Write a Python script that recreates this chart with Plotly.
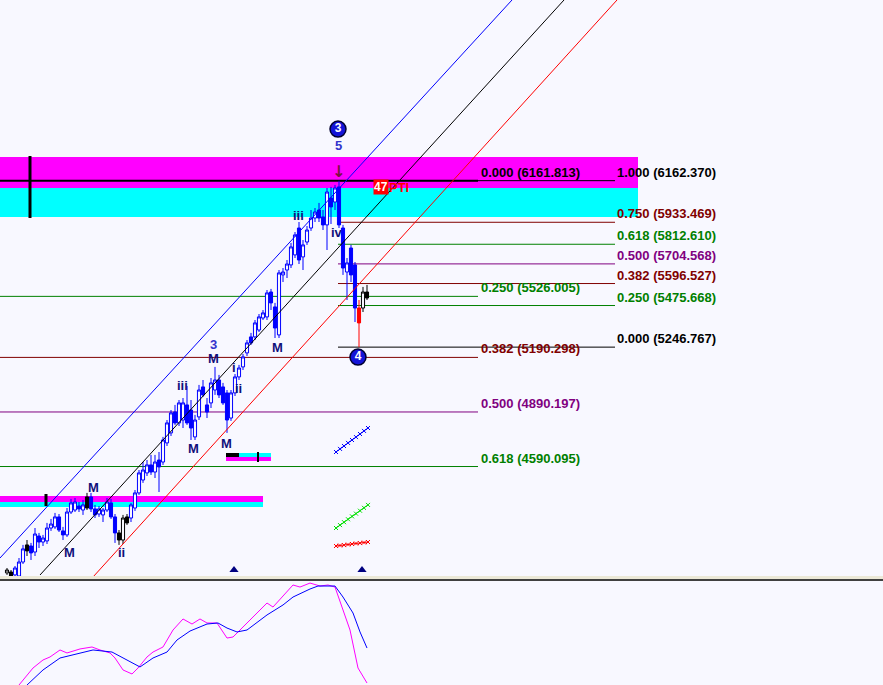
import plotly.graph_objects as go

# ---------------- data ----------------
bars = list(range(91))
opens = [4005, 4010, 3994, 3988, 4065, 4159, 4153, 4120, 4208, 4175,
         4181, 4252, 4258, 4313, 4236, 4214, 4340, 4351, 4373, 4351,
         4423, 4423, 4357, 4329, 4324, 4351, 4390, 4313, 4225, 4186,
         4313, 4307, 4362, 4445, 4516, 4555, 4599, 4560, 4626, 4615,
         4720, 4775, 4890, 4830, 4846, 4929, 4901, 4753, 4863, 5028,
         4929, 4940, 5011, 5066, 5028, 4995, 4857, 4995, 5083, 5138,
         5215, 5303, 5303, 5341, 5407, 5413, 5550, 5468, 5314, 5644,
         5671, 5699, 5754, 5902, 5743, 5825, 5902, 5957, 6001, 5963,
         5919, 6067, 6045, 6128, 5902, 5660, 5792, 5699, 5462, 5462, 5550]
highs = [4032, 4021, 4043, 4087, 4159, 4186, 4170, 4252, 4225, 4214,
         4280, 4302, 4335, 4329, 4258, 4362, 4412, 4417, 4395, 4406,
         4445, 4445, 4379, 4373, 4362, 4417, 4412, 4329, 4241, 4324,
         4329, 4390, 4461, 4571, 4615, 4626, 4654, 4654, 4670, 4753,
         4846, 4901, 4929, 4956, 4967, 5033, 4956, 4874, 5039, 5066,
         4967, 5077, 5138, 5094, 5050, 5011, 5011, 5099, 5149, 5209,
         5286, 5325, 5396, 5429, 5451, 5561, 5567, 5490, 5671, 5682,
         5726, 5820, 5880, 5935, 5836, 5913, 6001, 6012, 6040, 6001,
         6122, 6128, 6139, 6162, 5919, 5737, 5809, 5715, 5506, 5578, 5589]
lows = [3994, 3985, 3985, 3985, 4054, 4098, 4076, 4098, 4142, 4153,
        4164, 4236, 4247, 4230, 4186, 4203, 4329, 4340, 4340, 4324,
        4351, 4340, 4307, 4313, 4285, 4340, 4302, 4170, 4159, 4164,
        4269, 4285, 4346, 4434, 4500, 4538, 4544, 4527, 4450, 4599,
        4703, 4758, 4819, 4813, 4802, 4819, 4736, 4736, 4846, 4973,
        4857, 4912, 4984, 4967, 4929, 4775, 4841, 4978, 5066, 5121,
        5198, 5259, 5286, 5330, 5396, 5396, 5451, 5297, 5297, 5605,
        5627, 5682, 5737, 5704, 5671, 5809, 5886, 5935, 5935, 5891,
        5781, 5924, 6001, 5902, 5644, 5506, 5605, 5385, 5247, 5440, 5506]
closes = [4021, 3988, 4032, 4065, 4137, 4126, 4115, 4219, 4175, 4197,
          4252, 4274, 4313, 4241, 4214, 4340, 4390, 4395, 4357, 4379,
          4362, 4357, 4324, 4357, 4351, 4395, 4313, 4225, 4186, 4307,
          4280, 4379, 4445, 4555, 4571, 4599, 4560, 4615, 4588, 4736,
          4830, 4885, 4830, 4940, 4940, 4830, 4802, 4846, 5011, 4984,
          4890, 5050, 5066, 4984, 4940, 4846, 4995, 5083, 5132, 5193,
          5270, 5270, 5380, 5413, 5435, 5545, 5490, 5352, 5655, 5660,
          5704, 5798, 5864, 5726, 5809, 5891, 5957, 5990, 5957, 5919,
          6100, 6018, 6122, 5919, 5682, 5710, 5644, 5462, 5380, 5550, 5517]
black_bars = [0, 1, 5, 20, 28, 29, 30, 89, 90]
red_bars = [88]

# Fibonacci sets
fib_left_ratio = ["0.000", "0.250", "0.382", "0.500", "0.618"]
fib_left_price = [6161.813, 5526.005, 5190.298, 4890.197, 4590.095]
fib_right_ratio = ["1.000", "0.750", "0.618", "0.500", "0.382", "0.250", "0.000"]
fib_right_price = [6162.370, 5933.469, 5812.610, 5704.568, 5596.527, 5475.668, 5246.767]

# channel anchor points (bar, price)
chan_blue_x, chan_blue_y = [-1.75, 126.25], [4087, 7156]
chan_black_x, chan_black_y = [8.25, 139.25], [3993.5, 7156]
chan_red_x, chan_red_y = [21.5, 152.5], [3982.5, 7156]

# supply/demand zones (top, mid, bottom)
zone_hi = [6292.5, 6122, 5962.5]
zone_lo = [4428, 4395, 4367.5]
zone_small = [4664.5, 4642.5, 4620.5]

# wave labels (bar, price, text)
wave_labels = [
    (72.75, 5973, "iii"), (82.5, 5880, "iv"), (67.5, 5247, "M"),
    (51.5, 5187, "M"), (43.75, 5038, "iii"), (56.75, 5137, "i"),
    (57.75, 5022, "ii"), (46.5, 4692, "M"), (54.75, 4719, "M"),
    (21.5, 4477, "M"), (15.5, 4120, "M"), (28.5, 4120, "ii"),
]
wave_light = [(51.5, 5264, "3"), (82.75, 6358, "5")]
circles = [(82.75, 6446, "3"), (87.75, 5192, "4")]

# small indicator strokes
ind_x = [82.25, 83.25, 84.25, 85.25, 86.25, 87.25, 88.25, 89.25, 90.25]
ind_blue = [4670, 4687, 4703, 4720, 4736, 4752, 4769, 4786, 4802]
ind_green = [4252, 4268, 4284, 4300, 4316, 4331, 4347, 4363, 4379]
ind_red = [4153, 4156, 4158, 4161, 4164, 4167, 4169, 4172, 4175]

# oscillator (lower pane)
osc_mag_x = [3, 6.5, 9, 10.75, 13.25, 15, 18.25, 21.25, 23.25, 25.75, 27, 29, 31.25,
             32.75, 35, 36.5, 39, 41.5, 44, 46.25, 48.25, 50, 52.5, 55, 56.5, 60,
             62.5, 65, 66.5, 69, 71.5, 73.25, 75.75, 78.25, 80.25, 82, 83.75,
             85.75, 87.75, 90]
osc_mag = [0, 16.5, 24.3, 27.2, 34, 31.1, 35, 36.9, 34, 31.1, 26.2, 14.6, 10.7,
           16.5, 27.2, 32, 36.9, 53.4, 64.1, 59.2, 64.1, 60.2, 60.2, 45.6, 46.6, 60.2,
           69.9, 79.6, 75.7, 86.4, 97.1, 95.1, 99, 96.1, 97.1, 95.1, 75.7,
           53.4, 16.5, 1.9]
osc_blue_x = [5, 9, 13.25, 16.5, 21.5, 26.25, 29, 33.25, 36.5, 40, 42.5, 45.75, 50,
              52.75, 55, 57.5, 60, 65, 69, 71.5, 75.75, 77.75, 82, 84, 86.5, 88.25, 90]
osc_blue = [0, 14.6, 26.2, 29.1, 34, 32, 26.2, 17.5, 26.2, 32, 43.7, 52.4, 59.2,
            60.2, 55.3, 51.5, 53.4, 68, 77.7, 85.4, 93.2, 96.1, 96.1, 85.4, 69.9, 51.5, 35.9]

signal_marks_x = [56.75, 88.75]
signal_marks_y = [4021, 4021]

# ---------------- styling ----------------
BG = "#F8F8FF"
BLUE = "#0000FF"
NAVY = "#10107A"
GREEN = "#008000"
DRED = "#800000"
PURP = "#800080"
FONT = "Liberation Sans"
fib_left_col = ["#000000", GREEN, DRED, PURP, GREEN]
fib_right_col = ["#000000", DRED, GREEN, PURP, DRED, GREEN, "#000000"]
X0, X1 = -1.75, 219.0
Y0, Y1 = 3982.5, 7156.0

fig = go.Figure()


def candles(idx, up_line, up_fill, dn_line, dn_fill):
    fig.add_trace(go.Candlestick(
        x=[bars[i] for i in idx], open=[opens[i] for i in idx],
        high=[highs[i] for i in idx], low=[lows[i] for i in idx],
        close=[closes[i] for i in idx],
        increasing=dict(line=dict(color=up_line, width=1), fillcolor=up_fill),
        decreasing=dict(line=dict(color=dn_line, width=1), fillcolor=dn_fill),
        whiskerwidth=0, hoverinfo="skip", showlegend=False))


blue_idx = [i for i in bars if i not in black_bars and i not in red_bars]
candles(blue_idx, BLUE, BG, BLUE, BLUE)
candles(black_bars, "#000000", BG, "#000000", "#000000")
candles(red_bars, "#FF0000", "#FF0000", "#FF0000", "#FF0000")

# channel lines
for xs, ys, c in [(chan_blue_x, chan_blue_y, BLUE), (chan_black_x, chan_black_y, "#000000"),
                  (chan_red_x, chan_red_y, "#FF0000")]:
    fig.add_trace(go.Scatter(x=xs, y=ys, mode="lines", line=dict(color=c, width=1),
                             hoverinfo="skip", showlegend=False))

# indicator strokes
for ys, c in [(ind_blue, BLUE), (ind_green, "#00E000"), (ind_red, "#FF0000")]:
    fig.add_trace(go.Scatter(x=ind_x, y=ys, mode="lines+markers",
                             line=dict(color=c, width=1),
                             marker=dict(symbol="x-thin", size=4, line=dict(color=c, width=1)),
                             hoverinfo="skip", showlegend=False))

# signal triangles
fig.add_trace(go.Scatter(x=signal_marks_x, y=signal_marks_y, mode="markers",
                         marker=dict(symbol="triangle-up", size=8, color="#000080"),
                         hoverinfo="skip", showlegend=False))

# circles
fig.add_trace(go.Scatter(x=[c[0] for c in circles], y=[c[1] for c in circles],
                         mode="markers+text", text=["<b>%s</b>" % c[2] for c in circles],
                         textfont=dict(family=FONT, size=12, color="white"),
                         textposition="middle center",
                         marker=dict(size=16, color="#1414D8", line=dict(color="#000030", width=1.5)),
                         hoverinfo="skip", showlegend=False))

# oscillator
fig.add_trace(go.Scatter(x=osc_mag_x, y=osc_mag, mode="lines", xaxis="x2", yaxis="y2",
                         line=dict(color="#FF00FF", width=1), hoverinfo="skip", showlegend=False))
fig.add_trace(go.Scatter(x=osc_blue_x, y=osc_blue, mode="lines", xaxis="x2", yaxis="y2",
                         line=dict(color=BLUE, width=1), hoverinfo="skip", showlegend=False))

shapes = []
# zones
shapes.append(dict(type="rect", xref="x", yref="y", x0=X0, x1=157.75, y0=zone_hi[1], y1=zone_hi[0],
                   fillcolor="#FF00FF", line=dict(width=0), layer="below"))
shapes.append(dict(type="rect", xref="x", yref="y", x0=X0, x1=157.75, y0=zone_hi[2], y1=zone_hi[1],
                   fillcolor="#00FFFF", line=dict(width=0), layer="below"))
shapes.append(dict(type="rect", xref="x", yref="y", x0=X0, x1=64, y0=zone_lo[1], y1=zone_lo[0],
                   fillcolor="#FF00FF", line=dict(width=0), layer="below"))
shapes.append(dict(type="rect", xref="x", yref="y", x0=X0, x1=64, y0=zone_lo[2], y1=zone_lo[1],
                   fillcolor="#00FFFF", line=dict(width=0), layer="below"))
shapes.append(dict(type="rect", xref="x", yref="y", x0=54.75, x1=66, y0=zone_small[2], y1=zone_small[1],
                   fillcolor="#FF00FF", line=dict(width=0), layer="below"))
shapes.append(dict(type="rect", xref="x", yref="y", x0=58, x1=66, y0=zone_small[1], y1=zone_small[0],
                   fillcolor="#00FFFF", line=dict(width=0), layer="below"))
shapes.append(dict(type="rect", xref="x", yref="y", x0=54.75, x1=58, y0=zone_small[1], y1=zone_small[0],
                   fillcolor="#000000", line=dict(width=0), layer="below"))
shapes.append(dict(type="line", xref="x", yref="y", x0=62.75, x1=62.75, y0=4615, y1=4670,
                   line=dict(color="#000000", width=2)))
shapes.append(dict(type="line", xref="x", yref="y", x0=9.75, x1=9.75, y0=4373, y1=4439,
                   line=dict(color="#000000", width=3)))
shapes.append(dict(type="line", xref="x", yref="y", x0=5.75, x1=5.75, y0=5957, y1=6298,
                   line=dict(color="#000000", width=3)))

# fib lines
for p, c in zip(fib_left_price, fib_left_col):
    shapes.append(dict(type="line", xref="x", yref="y", x0=X0, x1=117.75, y0=p, y1=p,
                       line=dict(color=c, width=2 if c == "#000000" else 1), layer="below"))
for p, c in zip(fib_right_price, fib_right_col):
    shapes.append(dict(type="line", xref="x", yref="y", x0=82.75, x1=152, y0=p, y1=p,
                       line=dict(color=c, width=1), layer="below"))

# separator between panes
shapes.append(dict(type="rect", xref="paper", yref="paper", x0=0, x1=1, y0=0.1540, y1=0.1591,
                   fillcolor="#ECE9D8", line=dict(width=0)))
shapes.append(dict(type="line", xref="paper", yref="paper", x0=0, x1=1, y0=0.1533, y1=0.1533,
                   line=dict(color="#404040", width=2)))

ann = []
for r, p, c in zip(fib_left_ratio, fib_left_price, fib_left_col):
    ann.append(dict(x=118.25, y=p, xref="x", yref="y", text="<b>%s (%.3f)</b>" % (r, p),
                    xanchor="left", yanchor="bottom", showarrow=False, borderpad=0,
                    font=dict(family=FONT, size=13, color=c)))
for r, p, c in zip(fib_right_ratio, fib_right_price, fib_right_col):
    ann.append(dict(x=152.25, y=p, xref="x", yref="y", text="<b>%s (%.3f)</b>" % (r, p),
                    xanchor="left", yanchor="bottom", showarrow=False, borderpad=0,
                    font=dict(family=FONT, size=13, color=c)))
for x, y, t in wave_labels:
    ann.append(dict(x=x, y=y, xref="x", yref="y", text="<b>%s</b>" % t, showarrow=False,
                    font=dict(family=FONT, size=13, color=NAVY)))
for x, y, t in wave_light:
    ann.append(dict(x=x, y=y, xref="x", yref="y", text="<b>%s</b>" % t, showarrow=False,
                    font=dict(family=FONT, size=13, color="#3333CC")))
ann.append(dict(x=82.75, y=6215, xref="x", yref="y", text="<b>↓</b>", showarrow=False,
                font=dict(family="DejaVu Sans", size=16, color="#7A1040")))
ann.append(dict(x=93.4, y=6127, xref="x", yref="y", text="<b>47</b>", showarrow=False,
                bgcolor="#FF0000", borderpad=0, font=dict(family=FONT, size=12, color="white")))
ann.append(dict(x=95.0, y=6127, xref="x", yref="y", text="<b>PTI</b>", showarrow=False,
                xanchor="left", font=dict(family=FONT, size=13, color="#FF0000")))

fig.update_layout(
    width=883, height=685, margin=dict(l=0, r=0, t=0, b=0),
    paper_bgcolor=BG, plot_bgcolor=BG, showlegend=False,
    boxgap=0.22, boxgroupgap=0,
    xaxis=dict(range=[X0, X1], visible=False, rangeslider=dict(visible=False), domain=[0, 1]),
    yaxis=dict(range=[Y0, Y1], visible=False, domain=[0.15766, 1]),
    xaxis2=dict(range=[X0, X1], visible=False, anchor="y2", domain=[0, 1]),
    yaxis2=dict(range=[0, 100], visible=False, domain=[0, 0.15036]),
    shapes=shapes, annotations=ann,
)
fig.write_html("out.html", config={"displayModeBar": False},
               post_script="document.body.style.margin='0';document.body.style.background='%s';" % BG)
